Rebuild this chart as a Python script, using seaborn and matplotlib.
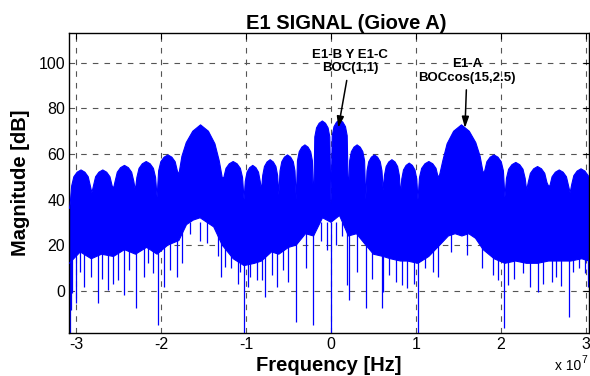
import numpy as np
import pandas as pd
import matplotlib
matplotlib.use("Agg")
import matplotlib.pyplot as plt
import seaborn as sns

# ---------------- data (frequency in units of 1e7 Hz, magnitude in dB) ----------------
# upper envelope of the spectrum, one row per lobe
upper_freq_e7 = [
    -3.079, -3.069, -3.051, -3.0255, -2.987, -2.941, -2.895, -2.8565, -2.831,
    -2.813, -2.795, -2.7695, -2.731, -2.685, -2.639, -2.6005, -2.575,
    -2.558, -2.54, -2.5145, -2.476, -2.43, -2.384, -2.3455, -2.32,
    -2.302, -2.284, -2.2585, -2.22, -2.174, -2.128, -2.0895, -2.064,
    -2.046, -2.028, -2.0025, -1.964, -1.918, -1.872, -1.8335, -1.808,
    -1.79, -1.754, -1.703, -1.6265, -1.535, -1.4425, -1.366, -1.315,
    -1.279, -1.261, -1.2355, -1.197, -1.151, -1.105, -1.0665, -1.041,
    -1.023, -1.0087, -0.988, -0.9575, -0.9207, -0.884, -0.853, -0.833,
    -0.818, -0.8037, -0.783, -0.7525, -0.716, -0.679, -0.648, -0.628,
    -0.614, -0.5997, -0.579, -0.5485, -0.5117, -0.475, -0.444, -0.424,
    -0.409, -0.3947, -0.374, -0.3435, -0.307, -0.27, -0.239, -0.219,
    -0.205, -0.1907, -0.170, -0.1395, -0.1023, -0.0655, -0.0348, -0.0143,
    0.0, 0.0143, 0.0348, 0.0655, 0.1023, 0.139, 0.170, 0.1903,
    0.2046, 0.219, 0.2394, 0.2701, 0.3069, 0.3437, 0.3744, 0.3949,
    0.409, 0.4233, 0.4438, 0.4745, 0.5113, 0.548, 0.579, 0.5993,
    0.614, 0.6283, 0.6488, 0.6795, 0.7162, 0.753, 0.7835, 0.804,
    0.818, 0.8323, 0.8528, 0.8835, 0.9203, 0.957, 0.9877, 1.0087,
    1.023, 1.041, 1.0665, 1.105, 1.151, 1.197, 1.2355, 1.261,
    1.279, 1.315, 1.366, 1.4425, 1.535, 1.6265, 1.703, 1.754,
    1.79, 1.808, 1.8335, 1.872, 1.918, 1.964, 2.0025, 2.028,
    2.046, 2.064, 2.0895, 2.128, 2.174, 2.22, 2.2585, 2.284,
    2.302, 2.32, 2.3455, 2.384, 2.43, 2.476, 2.5145, 2.54,
    2.558, 2.575, 2.6005, 2.639, 2.685, 2.731, 2.7695, 2.795,
    2.813, 2.831, 2.8565, 2.895, 2.941, 2.987, 3.0255, 3.035,
]
upper_db = [
    36, 38, 46, 50, 52, 53, 52, 50, 46,
    43, 46, 50, 52, 53, 52, 50, 46,
    45, 48, 52, 54, 55, 54, 52, 48,
    44, 49.7, 53.7, 55.7, 56.7, 55.7, 53.7, 49.7,
    41, 52.6, 56.6, 58.6, 59.6, 58.6, 56.6, 52.6,
    51, 59, 65, 70, 72.8, 70, 64.5, 57,
    49.5, 49.7, 53.7, 55.7, 56.7, 55.7, 53.7, 49.7,
    40, 48, 52, 54, 55, 54, 52, 48,
    44, 50.5, 54.5, 56.5, 57.5, 56.5, 54.5, 50.5,
    42, 52.6, 56.6, 58.6, 59.6, 58.6, 56.6, 52.6,
    40, 57, 61, 63, 64, 63, 61, 57,
    36, 67.5, 71.5, 73.5, 74.5, 73.5, 71.5, 67.5,
    38, 68, 72, 74, 75, 74, 72, 68,
    40, 57, 61, 63, 64, 63, 61, 57,
    40, 52.6, 56.6, 58.6, 59.6, 58.6, 56.6, 52.6,
    44, 50.5, 54.5, 56.5, 57.5, 56.5, 54.5, 50.5,
    42, 49, 53, 55, 56, 55, 53, 49,
    40, 49.7, 53.7, 55.7, 56.7, 55.7, 53.7, 49.7,
    51, 57, 64.5, 70, 72.8, 70, 65, 59,
    51.7, 52.6, 56.6, 58.6, 59.6, 58.6, 56.6, 52.6,
    41, 49.3, 53.3, 55.3, 56.3, 55.3, 53.3, 49.3,
    44, 47.5, 51.5, 53.5, 54.5, 53.5, 51.5, 47.5,
    46, 46, 50, 52, 53, 52, 50, 46,
    43, 46.5, 50.5, 52.5, 53.5, 52.5, 50.5, 50,
]

# lower edge of the dense band
lower_freq_e7 = [
    -3.079, -2.95, -2.82, -2.7, -2.56, -2.43, -2.3, -2.17, -2.046, -1.92,
    -1.79, -1.7, -1.62, -1.54, -1.46, -1.38, -1.28, -1.15, -1.023, -0.9,
    -0.818, -0.7, -0.614, -0.5, -0.409, -0.3, -0.205, -0.1, 0.0, 0.1,
    0.205, 0.3, 0.409, 0.5, 0.614, 0.7, 0.818, 0.9, 1.023, 1.15,
    1.279, 1.38, 1.46, 1.54, 1.62, 1.7, 1.79, 1.92, 2.046, 2.17,
    2.3, 2.43, 2.56, 2.7, 2.82, 2.95, 3.035,
]
lower_db = [
    12, 17, 14, 16, 15, 18, 16, 19, 16, 20,
    22, 29, 31, 32, 30, 28, 20, 14, 11, 12,
    13, 17, 16, 19, 20, 25, 24, 32, 30, 33,
    24, 25, 20, 16, 15, 14, 13, 13, 12, 15,
    20, 24, 25, 24, 25, 23, 18, 14, 12, 13,
    12, 12, 13, 13, 13, 14, 13,
]

# isolated downward spikes (frequency, minimum dB)
spike_freq_e7 = [
    -3.075, -3.06, -3.045, -3.0, -2.95, -2.905, -2.82, -2.74, -2.7, -2.62,
    -2.56, -2.51, -2.435, -2.38, -2.29, -2.2, -2.156, -2.094, -2.04, -1.965,
    -1.9, -1.815, -1.755, -1.66, -1.54, -1.46, -1.33, -1.29, -1.25, -1.18,
    -1.1, -1.07, -1.023, -0.98, -0.95, -0.87, -0.815, -0.776, -0.7, -0.64,
    -0.56, -0.506, -0.415, -0.3, -0.21, -0.12, -0.05, 0.0, 0.06, 0.13,
    0.185, 0.212, 0.3, 0.416, 0.48, 0.596, 0.616, 0.68, 0.76, 0.832,
    0.89, 0.98, 1.025, 1.1, 1.2, 1.262, 1.417, 1.596, 1.772, 1.9,
    1.968, 2.04, 2.086, 2.15, 2.262, 2.341, 2.439, 2.49, 2.597, 2.65,
    2.7, 2.8, 2.85, 2.92, 2.988, 3.02,
]
spike_db = [
    -18.5, -8.5, -1, -5.6, 8, 1.6, 6, -5.6, 5, 0.3,
    3, 4.7, -2, 9, -7.7, 6, 12, 7.8, -15, 1.7,
    9, 6, 12, 25, 22, 21, 15, 6, 10.5, 10,
    3, 8, -18.5, 1.7, 6, 4.7, 4.7, -3, 7, 1.7,
    9, 3.9, -13.7, 10, -15, 22, 18, -18.5, 20, 24,
    2.5, -4, 8, -7.7, 5, -7.7, -0.5, 7, 4, 2.5,
    1.2, 3, -18.5, 10, 8, 6, 17, 15.7, 10, 7,
    4.7, -16.5, 2.5, 5, 7.8, 1.7, -0.5, 3, 3.9, 6,
    2, -11.4, 8, 10, 7.8, 1.7,
]

x_tick_values = [-3, -2, -1, 0, 1, 2, 3]
y_tick_values = [0, 20, 40, 60, 80, 100]

assert len(upper_freq_e7) == len(upper_db)
assert len(lower_freq_e7) == len(lower_db)
assert len(spike_freq_e7) == len(spike_db)

upper = pd.DataFrame({"freq": np.array(upper_freq_e7) * 1e7, "db": upper_db})
lower = pd.DataFrame({"freq": np.array(lower_freq_e7) * 1e7, "db": lower_db})
spikes = pd.DataFrame({"freq": np.array(spike_freq_e7) * 1e7, "db": spike_db})

# ---------------- style ----------------
sns.set_theme(style="white")
plt.rcParams["font.family"] = ["Liberation Sans", "DejaVu Sans"]
plt.rcParams["text.color"] = "black"
plt.rcParams["axes.labelcolor"] = "black"
plt.rcParams["xtick.color"] = "black"
plt.rcParams["ytick.color"] = "black"

BLUE = "#0000ff"
W, H = 590, 376
fig = plt.figure(figsize=(W / 100, H / 100), dpi=100)
ax_l, ax_r, ax_t, ax_b = 69.3, 589.0, 33.3, 333.0
ax = fig.add_axes([ax_l / W, 1 - ax_b / H, (ax_r - ax_l) / W, (ax_b - ax_t) / H])

# band between lower and upper envelopes
poly_x = np.concatenate([upper["freq"].values, lower["freq"].values[::-1]])
poly_y = np.concatenate([upper["db"].values, lower["db"].values[::-1]])
ax.fill(poly_x, poly_y, color=BLUE, lw=0, zorder=2)
sns.lineplot(data=upper, x="freq", y="db", color=BLUE, lw=0.8, ax=ax, sort=False, zorder=3)
sns.lineplot(data=lower, x="freq", y="db", color=BLUE, lw=0.8, ax=ax, sort=False, zorder=3)
ax.vlines(spikes["freq"], spikes["db"], 30, color=BLUE, lw=0.9, zorder=2)

ax.set_xlim(-3.079e7, 3.035e7)
ax.set_ylim(-18.6, 113)

ax.set_xticks([v * 1e7 for v in x_tick_values])
ax.set_xticklabels([str(v) for v in x_tick_values])
ax.set_yticks(y_tick_values)
ax.set_yticklabels([str(v) for v in y_tick_values])

ax.grid(True, linestyle=(0, (5, 5.5)), color="#555555", lw=0.8)
ax.set_axisbelow(True)
for s in ax.spines.values():
    s.set_color("black")
    s.set_linewidth(1.0)
ax.tick_params(direction="in", length=4, width=0.8, top=True, right=True,
               labelsize=11.5, pad=3, colors="black")

ax.set_xlabel("Frequency [Hz]", fontsize=14.5, fontweight="bold")
ax.set_ylabel("Magnitude [dB]", fontsize=14.5, fontweight="bold")
ax.xaxis.set_label_coords(0.5, -0.078)
ax.yaxis.set_label_coords(-0.075, 0.5)

fig.text(346 / W, 1 - 29 / H, "E1 SIGNAL (Giove A)", ha="center", va="baseline",
         fontsize=14.5, fontweight="bold")

arrow = dict(arrowstyle="-|>,head_length=0.7,head_width=0.22", color="black", lw=1.1,
             shrinkA=2, shrinkB=0)
ax.annotate("E1-B Y E1-C\nBOC(1,1)", xy=(0.086e7, 71.5), xytext=(0.224e7, 100.5),
            ha="center", va="center", fontsize=9.5, fontweight="bold",
            arrowprops=arrow, zorder=5, linespacing=1.15)
ax.annotate("E1-A\nBOCcos(15,2.5)", xy=(1.576e7, 71.4), xytext=(1.6e7, 96.4),
            ha="center", va="center", fontsize=9.5, fontweight="bold",
            arrowprops=arrow, zorder=5, linespacing=1.15)

fig.text(555 / W, 3 / H, "x 10", ha="left", va="bottom", fontsize=10)
fig.text(581 / W, 11 / H, "7", ha="left", va="bottom", fontsize=7.5)

fig.savefig("out.png", dpi=100)
